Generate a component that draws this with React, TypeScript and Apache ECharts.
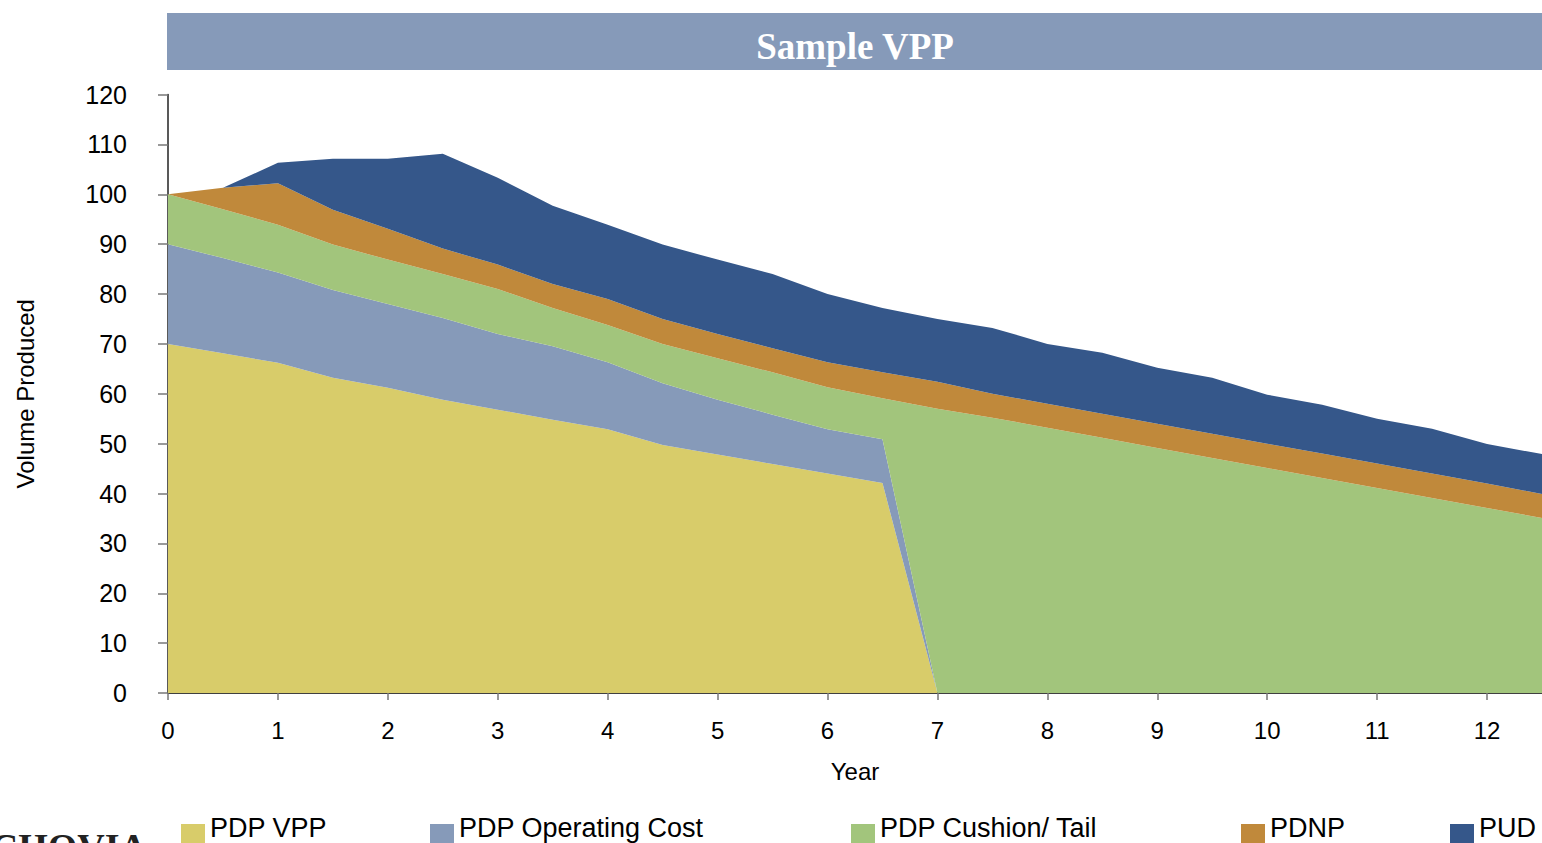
import { useEffect, useRef } from "react";
import * as echarts from "echarts";

const years = [0, 0.5, 1, 1.5, 2, 2.5, 3, 3.5, 4, 4.5, 5, 5.5, 6, 6.5, 7, 7.5, 8, 8.5, 9, 9.5, 10, 10.5, 11, 11.5, 12, 12.5];

const pdpVpp = [70, 68.1, 66.2, 63.2, 61.2, 58.8, 56.8, 54.8, 52.9, 49.7, 47.8, 45.9, 44.0, 42.1, 0, 0, 0, 0, 0, 0, 0, 0, 0, 0, 0, 0];
const pdpOperatingCost = [20, 19.1, 18.1, 17.6, 16.8, 16.4, 15.2, 14.7, 13.4, 12.4, 11.0, 9.9, 8.9, 8.8, 0, 0, 0, 0, 0, 0, 0, 0, 0, 0, 0, 0];
const pdpCushionTail = [10, 9.8, 9.6, 9.1, 8.9, 8.8, 9.0, 7.7, 7.5, 7.9, 8.3, 8.5, 8.4, 8.2, 57, 55.2, 53.2, 51.2, 49.1, 47.1, 45.1, 43.1, 41.1, 39.1, 37.1, 35.1];
const pdnp = [0, 4.3, 8.3, 7.0, 6.2, 5.1, 4.9, 4.8, 5.2, 5.0, 4.9, 4.8, 5.0, 5.2, 5.4, 4.8, 4.8, 4.8, 4.9, 4.9, 4.9, 4.9, 4.9, 4.9, 4.9, 4.8];
const pud = [0, 0, 4.1, 10.2, 14.0, 19.0, 17.4, 15.7, 14.9, 14.9, 14.9, 14.9, 13.7, 12.9, 12.6, 13.2, 12.0, 12.2, 11.2, 11.2, 9.8, 9.8, 9.0, 9.0, 7.9, 8.0];

const seriesNames = ["PDP VPP", "PDP Operating Cost", "PDP Cushion/ Tail", "PDNP", "PUD"];
const seriesValues = [pdpVpp, pdpOperatingCost, pdpCushionTail, pdnp, pud];
const seriesColors = ["#d8cc6a", "#869ab9", "#a2c57c", "#c0893b", "#35578a"];

const titleText = "Sample VPP";
const xAxisName = "Year";
const yAxisName = "Volume Produced";
const logoText = "WACHOVIA";

const SANS = "'Liberation Sans', Arial, sans-serif";
const SERIF = "'Liberation Serif', 'Times New Roman', serif";

const isWholeYear = (_i: number, v: string) => Number.isInteger(parseFloat(v));

// legend swatch: a near-invisible anchor point at the top, then the visible square lower down,
// so the label (centred on the whole icon box) sits near the top of the visible swatch
const legendIcon = "path://M0 0 L0.01 0 L0 0.01 Z M0 16 L24 16 L24 40 L0 40 Z";

export default function App() {
  const ref = useRef<HTMLDivElement>(null);

  useEffect(() => {
    if (!ref.current) return;
    const chart = echarts.init(ref.current, null, { renderer: "svg" });
    const legendLeft = [181, 430, 851, 1241, 1450];

    chart.setOption({
      animation: false,
      backgroundColor: "#ffffff",
      grid: { left: 168, top: 94.5, bottom: 150, right: -11, containLabel: false },
      xAxis: {
        type: "category",
        boundaryGap: false,
        data: years.map(String),
        name: xAxisName,
        nameLocation: "middle",
        nameGap: 66,
        nameTextStyle: { fontFamily: SANS, fontSize: 24, color: "#000", verticalAlign: "top" },
        axisLine: { show: true, lineStyle: { color: "#000", width: 1.5 } },
        axisTick: { show: true, length: 7, interval: isWholeYear, lineStyle: { color: "#777", width: 1.5 } },
        axisLabel: {
          fontFamily: SANS,
          fontSize: 24,
          color: "#000",
          margin: 25,
          interval: isWholeYear,
        },
        splitLine: { show: false },
      },
      yAxis: {
        type: "value",
        min: 0,
        max: 120,
        interval: 10,
        name: yAxisName,
        nameLocation: "middle",
        nameGap: 131,
        nameRotate: 90,
        nameTextStyle: { fontFamily: SANS, fontSize: 24, color: "#000" },
        axisLine: { show: true, lineStyle: { color: "#222", width: 1.5 } },
        axisTick: { show: true, length: 10, lineStyle: { color: "#777", width: 1.5 } },
        axisLabel: { fontFamily: SANS, fontSize: 25, color: "#000", margin: 41 },
        splitLine: { show: false },
      },
      legend: seriesNames.map((n, i) => ({
        data: [n],
        left: legendLeft[i],
        top: 808,
        padding: 0,
        icon: legendIcon,
        itemWidth: 24,
        itemHeight: 40,
        itemGap: 0,
        selectedMode: false,
        textStyle: { fontFamily: SANS, fontSize: 27, color: "#000" },
      })),
      graphic: [
        {
          type: "rect",
          shape: { x: 167, y: 13, width: 1400, height: 57 },
          style: { fill: "#869ab9" },
          silent: true,
        },
        {
          type: "text",
          x: 855,
          y: 46,
          style: {
            text: titleText,
            fill: "#ffffff",
            font: `bold 37px ${SERIF}`,
            textAlign: "center",
            textVerticalAlign: "middle",
          },
          silent: true,
        },
        {
          type: "text",
          x: 147,
          y: 828,
          style: {
            text: logoText,
            fill: "#222",
            font: `bold 38px ${SERIF}`,
            textAlign: "right",
            textVerticalAlign: "top",
          },
          silent: true,
        },
      ],
      series: seriesNames.map((n, i) => ({
        name: n,
        type: "line",
        stack: "total",
        symbol: "none",
        showSymbol: false,
        lineStyle: { width: 0 },
        itemStyle: { color: seriesColors[i] },
        areaStyle: { color: seriesColors[i], opacity: 1 },
        data: seriesValues[i],
        z: 2,
      })),
    });

    return () => chart.dispose();
  }, []);

  return (
    <div
      ref={ref}
      style={{ position: "fixed", left: 0, top: 0, width: 1542, height: 843 }}
    />
  );
}
